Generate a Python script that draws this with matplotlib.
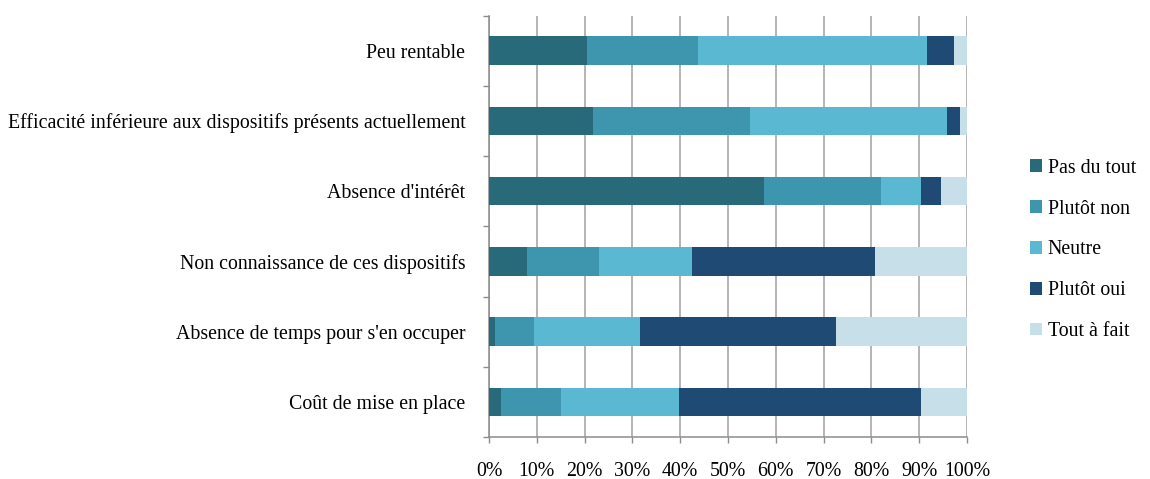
import matplotlib
matplotlib.use("Agg")
import matplotlib.pyplot as plt
import numpy as np
from matplotlib.ticker import FixedLocator, PercentFormatter

categories = [
    "Peu rentable",
    "Efficacité inférieure aux dispositifs présents actuellement",
    "Absence d'intérêt",
    "Non connaissance de ces dispositifs",
    "Absence de temps pour s'en occuper",
    "Coût de mise en place",
]
series_names = ["Pas du tout", "Plutôt non", "Neutre", "Plutôt oui", "Tout à fait"]
pas_du_tout = [20.4, 21.8, 57.5, 8.0, 1.2, 2.6]
plutot_non = [23.3, 32.8, 24.5, 15.1, 8.2, 12.4]
neutre = [48.0, 41.3, 8.4, 19.3, 22.1, 24.7]
plutot_oui = [5.5, 2.7, 4.1, 38.4, 41.1, 50.7]
tout_a_fait = [2.8, 1.4, 5.5, 19.2, 27.4, 9.6]
colors = ["#286a7a", "#3d96ad", "#5bb8d2", "#1f4a73", "#c6dfe8"]

plt.rcParams["font.family"] = ["Liberation Serif", "DejaVu Serif"]
FS = 14.3

fig = plt.figure(figsize=(11.5, 4.79), dpi=100)
ax = fig.add_axes([489 / 1150, 1 - 437 / 479, (967 - 489) / 1150, (437 - 15.5) / 479])

data = [pas_du_tout, plutot_non, neutre, plutot_oui, tout_a_fait]
y = np.arange(len(categories))
left = np.zeros(len(categories))
for name, vals, c in zip(series_names, data, colors):
    vals = np.array(vals)
    ax.barh(y, vals, left=left, height=0.405, color=c, label=name, zorder=3)
    left += vals

ax.set_xlim(0, 100)
ax.set_ylim(len(categories) - 0.5, -0.5)
ax.set_xticks(np.arange(0, 101, 10))
ax.xaxis.set_major_formatter(PercentFormatter(decimals=0))
ax.set_yticks(y)
ax.set_yticklabels(categories)
ax.yaxis.set_minor_locator(FixedLocator(np.arange(-0.5, len(categories), 1.0)))
ax.tick_params(axis="y", which="major", length=0, pad=17, labelsize=FS)
ax.tick_params(axis="y", which="minor", length=4, color="#8c8c8c", width=1)
ax.tick_params(axis="x", which="major", length=4, color="#8c8c8c", width=1, pad=14, labelsize=FS)
ax.grid(axis="x", color="#a0a0a0", linewidth=1.1, zorder=0)
for s in ["top", "right"]:
    ax.spines[s].set_visible(False)
for s in ["left", "bottom"]:
    ax.spines[s].set_color("#8c8c8c")
    ax.spines[s].set_linewidth(1.1)

handles, labels = ax.get_legend_handles_labels()
fig.legend(handles, labels, loc="center left", bbox_to_anchor=(1012 / 1150, 1 - 250 / 479),
           frameon=False, fontsize=FS, handlelength=0.6, handleheight=0.6,
           handletextpad=0.3, labelspacing=1.1)

fig.savefig("out.png", dpi=100)
